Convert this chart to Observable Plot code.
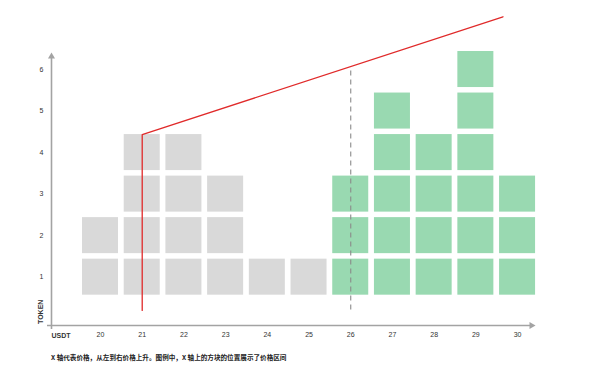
<!DOCTYPE html>
<html>
<head>
<meta charset="utf-8">
<script src="https://cdn.jsdelivr.net/npm/d3@7"></script>
<script src="https://cdn.jsdelivr.net/npm/@observablehq/plot@0.6"></script>
<style>
  html, body { margin: 0; padding: 0; background: #fff; }
  #wrap { position: relative; width: 600px; height: 384px; }
  #caption {
    position: absolute; left: 51px; top: 354px;
    font-family: "Noto Sans CJK SC", "Liberation Sans", sans-serif;
    font-size: 6.6px; line-height: 1; color: #222; font-weight: 600; white-space: nowrap;
  }
</style>
</head>
<body>
<div id="wrap"><div id="chart"></div><div id="caption"></div></div>
<script>
// ---- data ----
const prices = [20, 21, 22, 23, 24, 25, 26, 27, 28, 29, 30];
const counts = [2, 4, 4, 3, 1, 1, 3, 5, 4, 6, 3];
const sides  = ["left", "left", "left", "left", "left", "left", "right", "right", "right", "right", "right"];
const yTicks = [1, 2, 3, 4, 5, 6];
const redLineX = [21, 21, 29.65];
const redLineY = [0.2, 4.43, 7.27];
const markPrice = 26;
const markRange = [0.21, 6.06];
const xLabel = "USDT";
const yLabel = "TOKEN";
const captionText = "X 轴代表价格，从左到右价格上升。图例中，X 轴上的方块的位置展示了价格区间";

// ---- derived tables ----
const cells = [];
prices.forEach((p, i) => {
  for (let k = 1; k <= counts[i]; k++) cells.push({price: p, level: k, side: sides[i]});
});
const redLine = redLineX.map((x, i) => ({x, y: redLineY[i]}));

const xDomain = [18.825, 30.43];
const yDomain = [-0.164, 6.41];
const axisColor = "#a3a3a3";

const chart = Plot.plot({
  width: 600,
  height: 348,
  marginLeft: 51, marginRight: 65, marginTop: 52, marginBottom: 23,
  style: {fontFamily: "'Liberation Sans', Arial, sans-serif", fontSize: "7px", background: "#fff", overflow: "visible"},
  x: {domain: xDomain},
  y: {domain: yDomain},
  color: {domain: ["left", "right"], range: ["#d9d9d9", "#99d9b1"]},
  marks: [
    Plot.rect(cells, {
      x1: d => d.price - 0.5, x2: d => d.price + 0.5,
      y1: d => d.level - 0.5, y2: d => d.level + 0.5,
      fill: "side",
      insetLeft: 2.85, insetRight: 2.85, insetTop: 2.75, insetBottom: 2.75
    }),
    Plot.ruleX([markPrice], {y1: markRange[0], y2: markRange[1], stroke: "#8a8a8a", strokeWidth: 1.1, strokeDasharray: "5,4"}),
    Plot.line(redLine, {x: "x", y: "y", stroke: "#e02a2a", strokeWidth: 1.3}),
    // axis lines with arrowheads
    Plot.ruleX([xDomain[0]], {y1: yDomain[0], y2: yDomain[1], stroke: axisColor, strokeWidth: 1.6, dy: 4}),
    Plot.ruleY([yDomain[0]], {x1: xDomain[0], x2: xDomain[1], stroke: axisColor, strokeWidth: 1.6, dx: -4}),
    Plot.dot([0], {x: () => xDomain[0], y: () => yDomain[1], symbol: "triangle", r: 2.6, fill: axisColor, stroke: "none", dy: 4}),
    Plot.dot([0], {x: () => xDomain[1], y: () => yDomain[0], symbol: "triangle", r: 2.6, fill: axisColor, stroke: "none", rotate: 90, dx: -4}),
    // tick labels
    Plot.axisX({ticks: prices, tickFormat: d => String(d), tickSize: 0, tickPadding: 6.5, label: null, fill: "#333", fontSize: 7}),
    Plot.axisY({ticks: yTicks, tickFormat: d => String(d), tickSize: 0, tickPadding: 8, label: null, fill: "#333", fontSize: 7}),
    // axis names
    Plot.text([xLabel], {x: () => xDomain[0], y: () => yDomain[0], text: d => d, textAnchor: "start", dy: 10.5, fontWeight: "bold", fontSize: 7, fill: "#333"}),
    Plot.text([yLabel], {x: () => xDomain[0], y: () => yDomain[0], text: d => d, textAnchor: "start", rotate: -90, dx: -10.5, dy: -1.5, fontWeight: "bold", fontSize: 7, fill: "#333"})
  ]
});
document.getElementById("chart").appendChild(chart);
document.getElementById("caption").textContent = captionText;
</script>
</body>
</html>
